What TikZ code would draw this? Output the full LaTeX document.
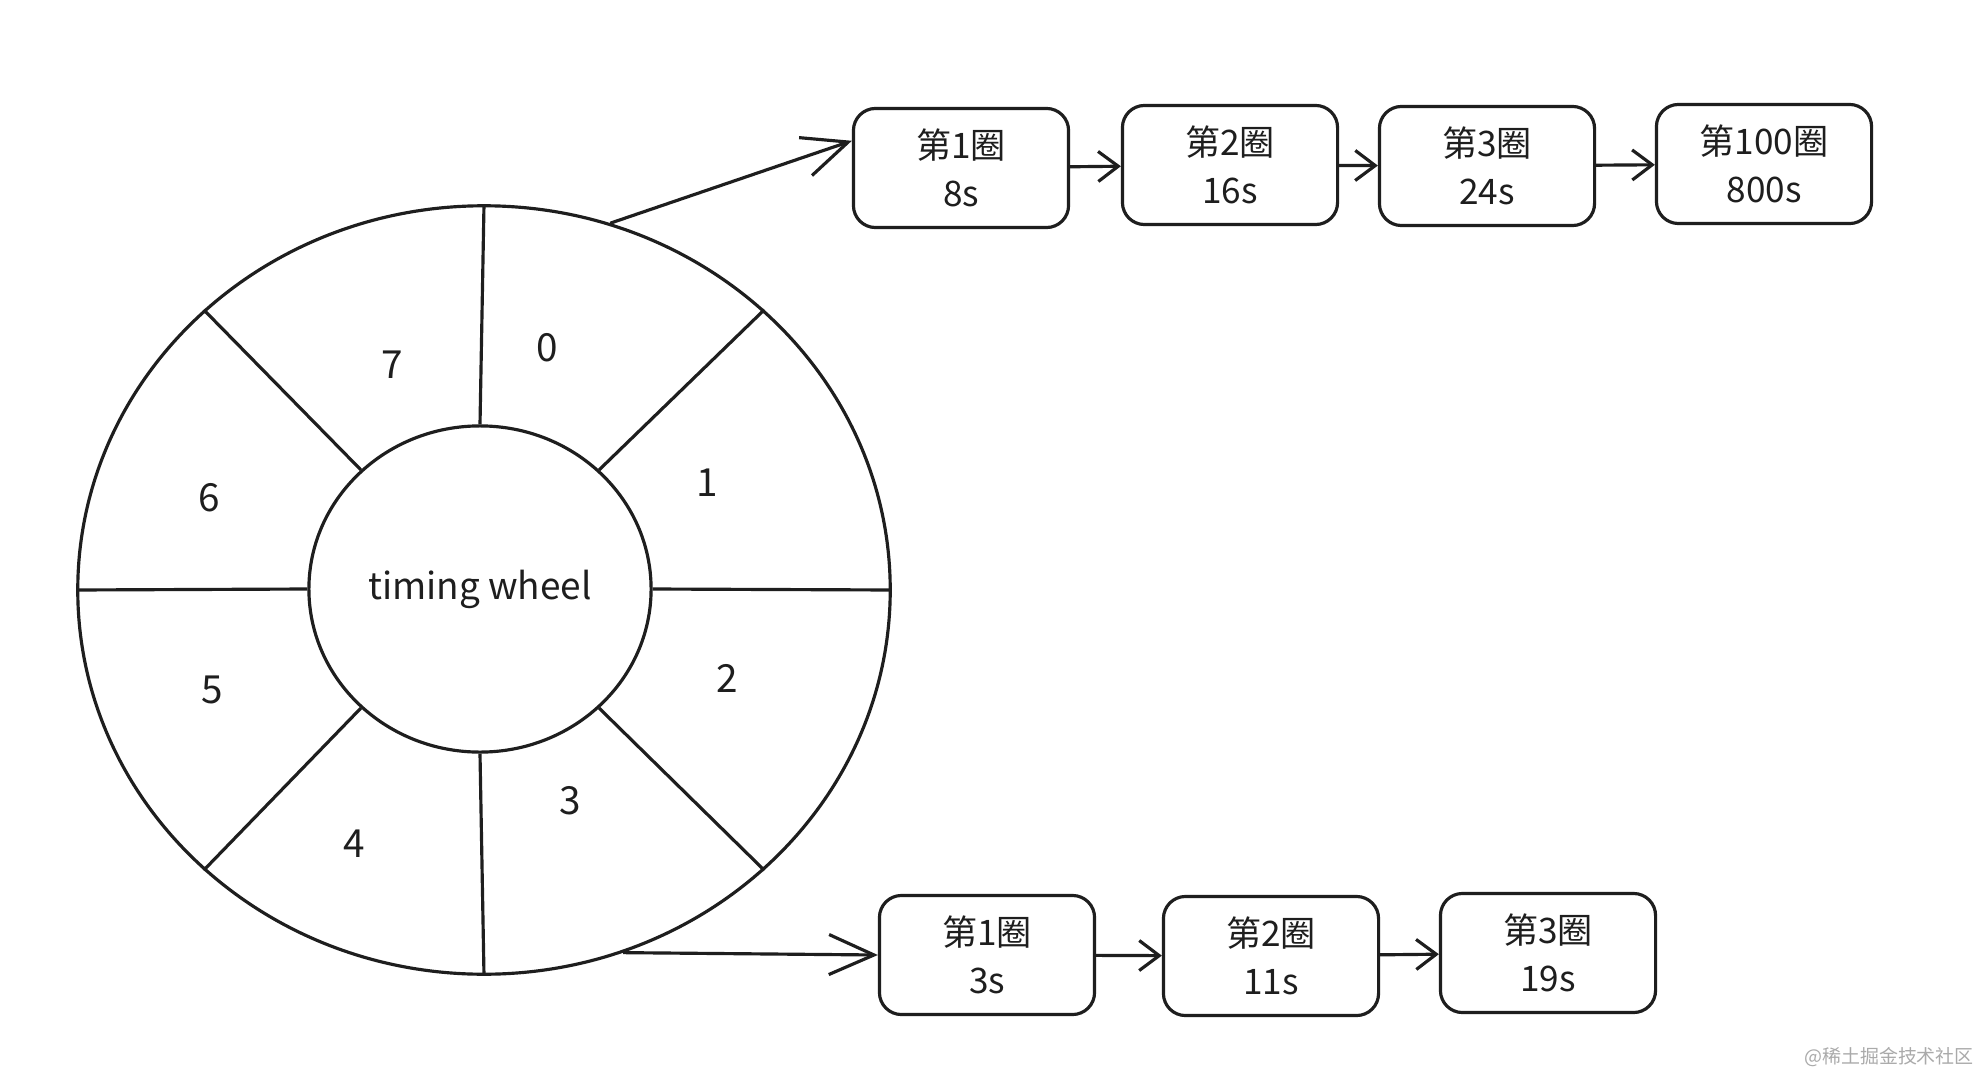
\documentclass[tikz,border=0pt]{standalone}
\usepackage{fontspec}
\usetikzlibrary{arrows.meta,positioning,shapes.geometric}
\newfontfamily\cjk{Noto Sans CJK SC}
\definecolor{ink}{RGB}{30,30,30}
\definecolor{mark}{RGB}{170,170,170}

\begin{document}
\begin{tikzpicture}[x=0.01cm, y=-0.01cm, line width=0.9pt, draw=ink,
  every node/.style={font=\cjk\fontsize{10}{13.5}\selectfont, text=ink},
  ring/.style={draw, ellipse, inner sep=0pt},
  slot/.style={font=\cjk\fontsize{11}{13}\selectfont},
  lapbox/.style={draw, rounded corners=2.2mm, minimum width=2.15cm, minimum height=1.19cm, align=center, inner sep=0pt},
  link/.style={-{Straight Barb[length=2mm,width=3mm]}},
  feed/.style={-{Straight Barb[length=4.5mm,width=4mm]}}]
\useasboundingbox[fill=white] (0,0) rectangle (1976,1076);

% the wheel
\node[ring, minimum width=8.12cm, minimum height=7.68cm] (wheel) at (484,590) {};
\node[ring, minimum width=3.42cm, minimum height=3.26cm, font=\cjk\fontsize{10.5}{13}\selectfont] (hub) at (480,589) {timing wheel};
\foreach \a in {0,45,...,315}
  \draw (hub.\a) -- (wheel.\a);

% slot numbers
\node[slot] (s0) at (547,348) {0};
\node[slot] (s1) at (707,483) {1};
\node[slot] (s2) at (727,678) {2};
\node[slot] (s3) at (570,801) {3};
\node[slot] (s4) at (354,844) {4};
\node[slot] (s5) at (212,690) {5};
\node[slot] (s6) at (209,498) {6};
\node[slot] (s7) at (392,365) {7};

% tasks of slot 0
\node[lapbox] (a1) at (961,168) {第1圈\\8s};
\node[lapbox] (a2) at (1230,165) {第2圈\\16s};
\node[lapbox] (a3) at (1487,166) {第3圈\\24s};
\node[lapbox] (a4) at (1764,164) {第100圈\\800s};
\draw[feed] (wheel.71) -- (a1.166);
\draw[link] (a1) -- (a2);
\draw[link] (a2) -- (a3);
\draw[link] (a3) -- (a4);

% tasks of slot 3
\node[lapbox] (b1) at (987,955) {第1圈\\3s};
\node[lapbox] (b2) at (1271,956) {第2圈\\11s};
\node[lapbox] (b3) at (1548,953) {第3圈\\19s};
\draw[feed] (wheel.-69) -- (b1.west);
\draw[link] (b1) -- (b2);
\draw[link] (b2) -- (b3);

\node[text=mark, font=\cjk\fontsize{5.4}{6}\selectfont] (wm) at (1889,1057) {@稀土掘金技术社区};
\end{tikzpicture}
\end{document}
